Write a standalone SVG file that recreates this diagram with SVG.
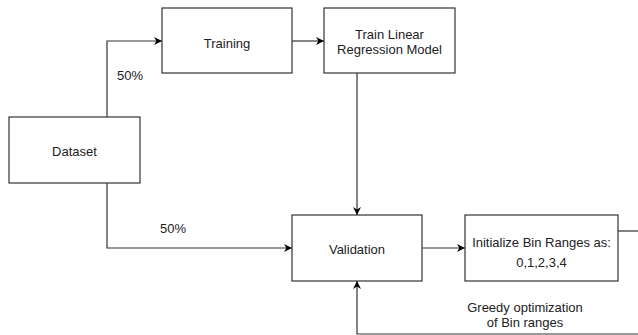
<svg xmlns="http://www.w3.org/2000/svg" width="638" height="335" viewBox="0 0 638 335">
<style>
.box{fill:#fff;stroke:#333;stroke-width:1.2}
.ln{fill:none;stroke:#333;stroke-width:1.2}
text{font-family:"Liberation Sans",Arial,sans-serif;font-size:13px;fill:#222;text-anchor:middle}
</style>
<defs>
<marker id="ar" viewBox="0 0 10 10" refX="10" refY="5" markerWidth="8" markerHeight="8" orient="auto" markerUnits="userSpaceOnUse">
<path d="M0,0 L10,5 L0,10 L3,5 Z" fill="#000"/>
</marker>
</defs>
<rect width="638" height="335" fill="#fff"/>
<g id="connectors">
<path class="ln" d="M107,117 V41 H162" marker-end="url(#ar)"/>
<path class="ln" d="M292,41 H324" marker-end="url(#ar)"/>
<path class="ln" d="M107,183 V248 H292" marker-end="url(#ar)"/>
<path class="ln" d="M357,73 V215" marker-end="url(#ar)"/>
<path class="ln" d="M422,248 H465" marker-end="url(#ar)"/>
<path class="ln" d="M618,231 H640"/>
<path class="ln" d="M640,334 H357 V281" marker-end="url(#ar)"/>
<text x="130" y="79.5">50%</text>
<text x="173" y="232.5">50%</text>
<text x="525" y="312">Greedy optimization</text>
<text x="525" y="327">of Bin ranges</text>
</g>
<g id="dataset"><rect class="box" x="9" y="117" width="131" height="66"/><text x="74.5" y="155.5">Dataset</text></g>
<g id="training"><rect class="box" x="162" y="8" width="130" height="65"/><text x="227" y="47.5">Training</text></g>
<g id="train-lr"><rect class="box" x="324" y="8" width="131" height="65"/><text x="389.5" y="39">Train Linear</text><text x="389.5" y="54">Regression Model</text></g>
<g id="validation"><rect class="box" x="292" y="215" width="130" height="66"/><text x="357" y="253.5">Validation</text></g>
<g id="init-bins"><rect class="box" x="465" y="215" width="153" height="66"/><text x="541.5" y="247">Initialize Bin Ranges as:</text><text x="541.5" y="267">0,1,2,3,4</text></g>
</svg>
